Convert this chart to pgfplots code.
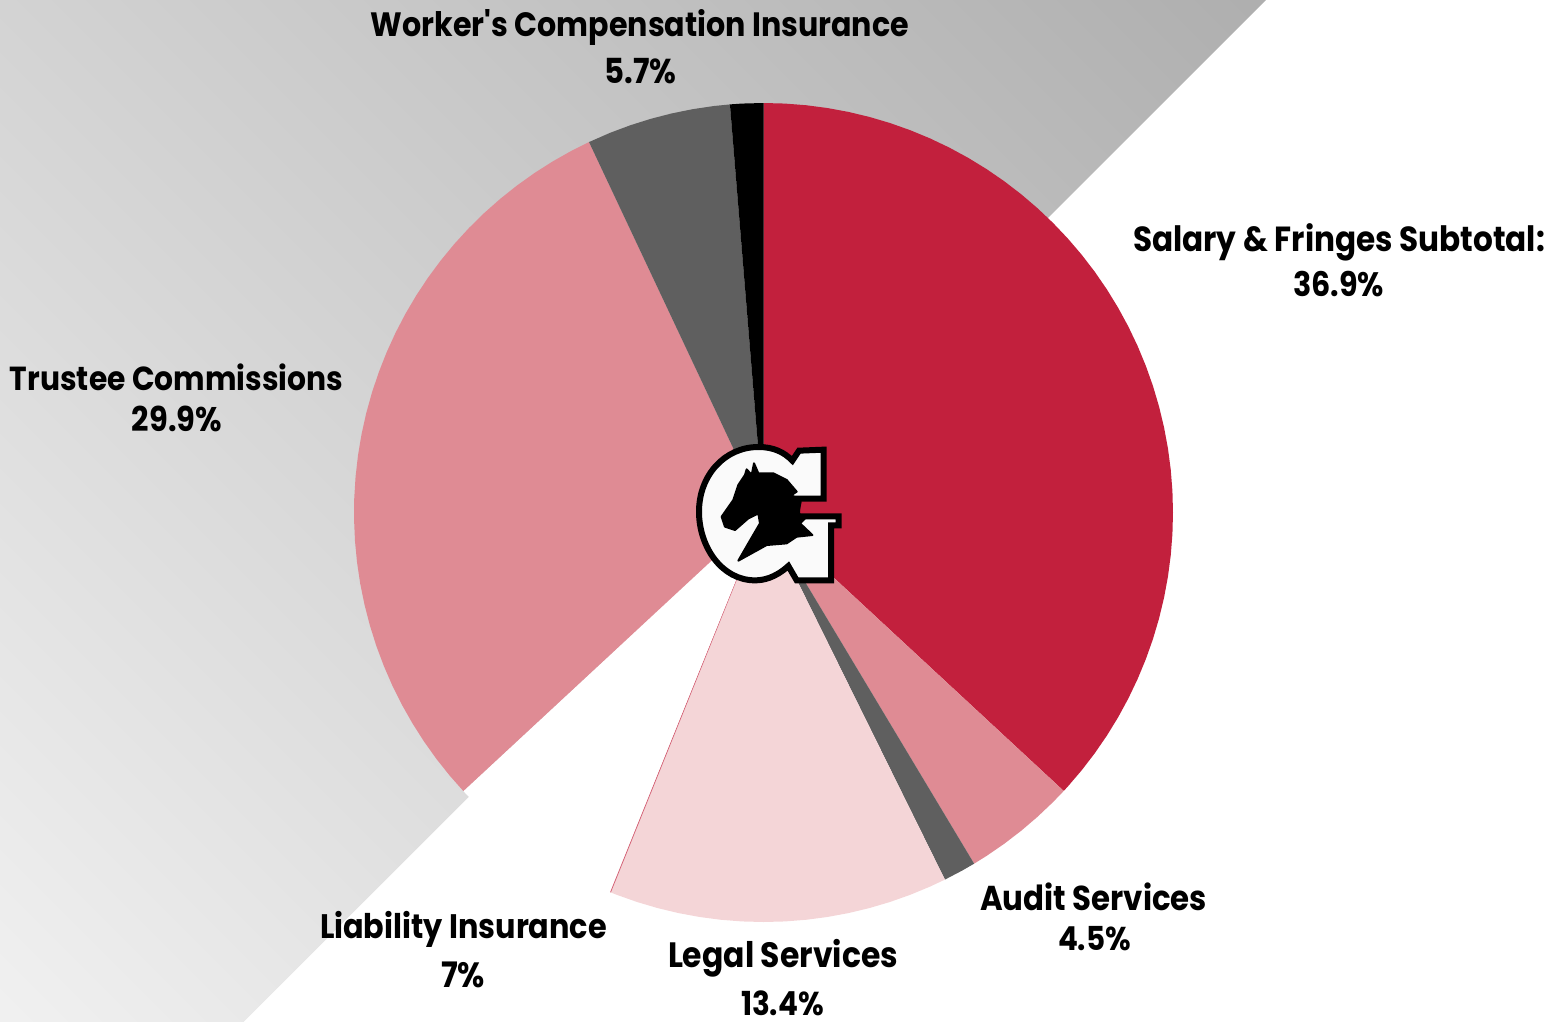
\documentclass[border=0pt]{standalone}
\usepackage{fontspec}
\setmainfont{Poppins}
\usepackage{graphicx}
\usepackage{pgfplots}
\pgfplotsset{compat=1.18}
\usepgfplotslibrary{polar}
\definecolor{slred}{HTML}{C2203D}
\definecolor{slpink}{HTML}{DF8B94}
\definecolor{sllight}{HTML}{F4D5D7}
\definecolor{slgrey}{HTML}{5F5F5F}

% label: centre x, baseline y (reference pixels), width in pixels, text
\newcommand{\lab}[4]{\node[anchor=base,inner sep=0pt] at (#1,#2) {\scalebox{1}[1.12]{\resizebox{\dimexpr #3pt/2\relax}{!}{\fontsize{15pt}{18pt}\selectfont\bfseries #4}}};}

\begin{document}
\begin{tikzpicture}
\path[use as bounding box] (0,0) rectangle (779.5pt,-511pt);

% grey diagonal background
\begin{scope}[x=0.5pt,y=-0.5pt]
\clip (0,0) -- (1265,0) -- (243,1022) -- (0,1022) -- cycle;
\foreach \i in {0,...,65}{
  \pgfmathsetmacro{\tz}{\i*34.65}
  \pgfmathsetmacro{\gv}{(240-\i)/255}
  \definecolor{bgc}{gray}{\gv}
  \fill[bgc] (\tz-1032,-10) -- (\tz+10,1032) -- (3000,1032) -- (3000,-10) -- cycle;
}
\end{scope}

\begin{polaraxis}[
  at={(381.75pt,-256.25pt)}, anchor=center,
  width=409.5pt, height=409.5pt, scale only axis,
  xmin=0, xmax=360, ymin=0, ymax=1,
  hide axis, clip=false]
% Salary & Fringes 36.9
\addplot[fill=slred,draw=none] coordinates {(90,0)(90,1)(87,1)(84,1)(81,1)(78,1)(75,1)(72,1)(69,1)(66,1)(63,1)(60,1)(57,1)(54,1)(51,1)(48,1)(45,1)(42,1)(39,1)(36,1)(33,1)(30,1)(27,1)(24,1)(21,1)(18,1)(15,1)(12,1)(9,1)(6,1)(3,1)(0,1)(-3,1)(-6,1)(-9,1)(-12,1)(-15,1)(-18,1)(-21,1)(-24,1)(-27,1)(-30,1)(-33,1)(-36,1)(-39,1)(-42,1)(-42.84,1)} -- cycle;
% Audit Services 4.5
\addplot[fill=slpink,draw=none] coordinates {(0,0)(-42.84,1)(-45,1)(-48,1)(-51,1)(-54,1)(-57,1)(-59.04,1)} -- cycle;
% unlabelled sliver
\addplot[fill=slgrey,draw=none] coordinates {(0,0)(-59.04,1)(-61,1)(-63.7,1)} -- cycle;
% Legal Services 13.4
\addplot[fill=sllight,draw=none] coordinates {(0,0)(-63.7,1)(-66,1)(-69,1)(-72,1)(-75,1)(-78,1)(-81,1)(-84,1)(-87,1)(-90,1)(-93,1)(-96,1)(-99,1)(-102,1)(-105,1)(-108,1)(-111,1)(-111.94,1)} -- cycle;
\addplot[draw=slred!70,line width=0.4pt] coordinates {(0,0)(-111.94,1)};
% Liability Insurance 7
\addplot[fill=white,draw=none] coordinates {(0,0)(-112.1,1)(-114,1)(-117,1)(-120,1)(-123,1)(-126,1)(-129,1)(-132,1)(-135,1)(-137.14,1)} -- cycle;
% Trustee Commissions 29.9
\addplot[fill=slpink,draw=none] coordinates {(0,0)(-137.14,1)(-140,1)(-143,1)(-146,1)(-149,1)(-152,1)(-155,1)(-158,1)(-161,1)(-164,1)(-167,1)(-170,1)(-173,1)(-176,1)(-179,1)(-182,1)(-185,1)(-188,1)(-191,1)(-194,1)(-197,1)(-200,1)(-203,1)(-206,1)(-209,1)(-212,1)(-215,1)(-218,1)(-221,1)(-224,1)(-227,1)(-230,1)(-233,1)(-236,1)(-239,1)(-242,1)(-244.78,1)} -- cycle;
% Worker's Compensation 5.7
\addplot[fill=slgrey,draw=none] coordinates {(0,0)(-244.78,1)(-248,1)(-251,1)(-254,1)(-257,1)(-260,1)(-263,1)(-265.3,1)} -- cycle;
% black sliver
\addplot[fill=black,draw=none] coordinates {(0,0)(-265.3,1)(-267,1)(-270,1)} -- cycle;
\end{polaraxis}

% logo
\begin{scope}[shift={(340pt,-215pt)},x=0.16667pt,y=-0.16667pt]
\filldraw[fill=white!98!black,draw=black,line width=3pt,line join=miter]
  (357,62) -- (431,59) -- (431,206) -- (351,206) -- (351,259) -- (476,259) -- (476,286) -- (453,286)
  -- (453,451) -- (350,451) -- (325,408)
  .. controls (285,444) and (250,451) .. (225,451)
  .. controls (125,451) and (57,350) .. (57,245)
  .. controls (57,135) and (135,51) .. (235,51)
  .. controls (280,51) and (312,66) .. (337,92) -- cycle;
\filldraw[black,line width=1pt,line join=round]
  (195,135) -- (200,118) -- (215,135) -- (222,100) -- (235,130) -- (280,130) -- (320,150) -- (350,185)
  -- (335,195) -- (362,215) -- (355,250) -- (375,265) -- (360,280) -- (397,315) -- (350,320) -- (320,340)
  -- (260,345) -- (175,392) -- (205,340) -- (240,280) -- (235,250) -- (205,265) -- (165,300) -- (135,290)
  -- (125,260) -- (160,210) -- (175,165) -- cycle;
\end{scope}

% labels
\begin{scope}[x=0.5pt,y=-0.5pt]
\lab{640}{37}{538}{Worker\textquotesingle s Compensation Insurance}
\lab{640.5}{84}{72}{5.7\%}
\lab{1339}{251}{412}{Salary \& Fringes Subtotal:}
\lab{1338.5}{297}{91}{36.9\%}
\lab{176.5}{390}{333}{Trustee Commissions}
\lab{177}{431}{90}{29.9\%}
\lab{463.5}{938}{287}{Liability Insurance}
\lab{463}{987}{44}{7\%}
\lab{783}{967}{230}{Legal Services}
\lab{782.5}{1015}{83}{13.4\%}
\lab{1093.5}{910}{227}{Audit Services}
\lab{1094.5}{950}{73}{4.5\%}
\end{scope}
\end{tikzpicture}
\end{document}
